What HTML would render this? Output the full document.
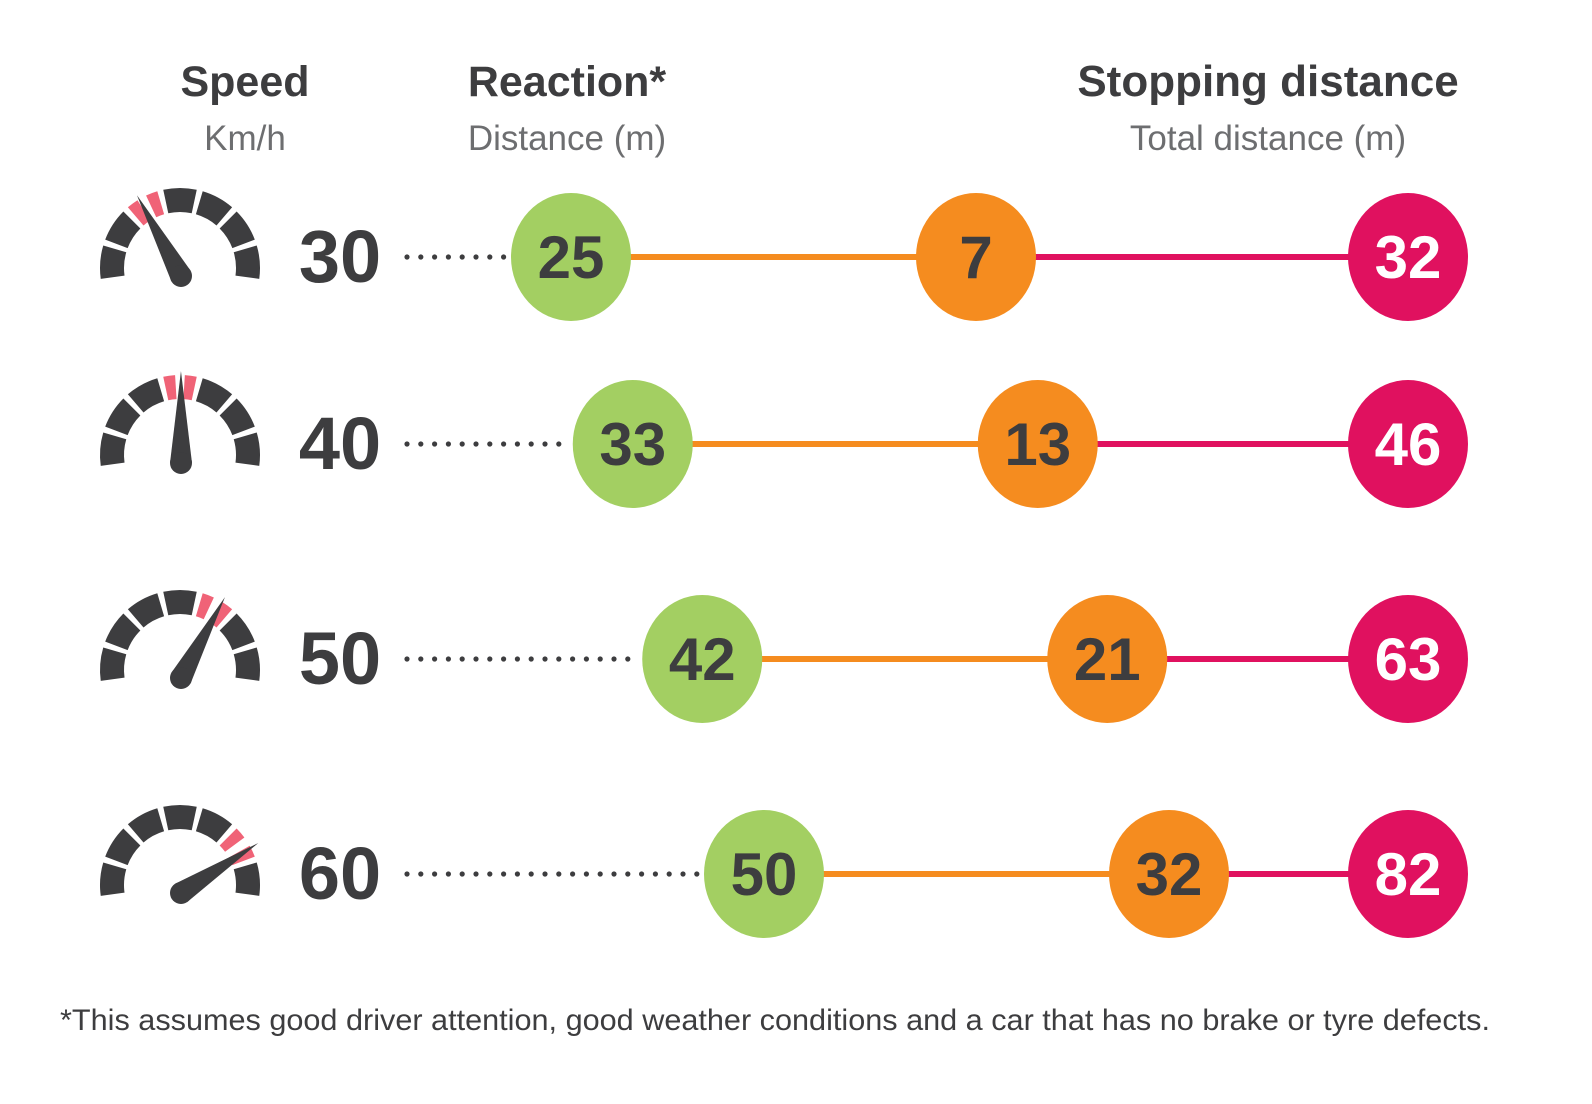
<!DOCTYPE html>
<html><head><meta charset="utf-8"><style>
body{margin:0;background:#fff;}
svg text{font-family:"Liberation Sans",sans-serif;}
</style></head><body>
<svg id="chart" width="1592" height="1099" viewBox="0 0 1592 1099" xmlns="http://www.w3.org/2000/svg">
<text x="245" y="96" text-anchor="middle" font-size="43" font-weight="bold" fill="#3d3d3f">Speed</text>
<text x="245" y="150" text-anchor="middle" font-size="35" fill="#6d6e70">Km/h</text>
<text x="567" y="96" text-anchor="middle" font-size="43" font-weight="bold" fill="#3d3d3f">Reaction*</text>
<text x="567" y="150" text-anchor="middle" font-size="35" fill="#6d6e70">Distance (m)</text>
<text x="1268" y="96" text-anchor="middle" font-size="44" font-weight="bold" fill="#3d3d3f">Stopping distance</text>
<text x="1268" y="150" text-anchor="middle" font-size="35" fill="#6d6e70">Total distance (m)</text>
<text x="775" y="1030" text-anchor="middle" font-size="29.5" fill="#3d3d3f" textLength="1430" lengthAdjust="spacingAndGlyphs">*This assumes good driver attention, good weather conditions and a car that has no brake or tyre defects.</text>
<g id="rows"></g>
</svg>
<script>
const speeds=[30,40,50,60];
const reaction=[25,33,42,50];
const braking=[7,13,21,32];
const total=[32,46,63,82];
const rowY=[257,444,659,874];
const NS='http://www.w3.org/2000/svg';
const g=document.getElementById('rows');
const xR=v=>378+7.72*v;
const xB=(r,b)=>xR(r)+405;
const xT=v=>1408;
const needleAngle=s=>118.6-(s-30)*2.857;
function mk(t,a,p){const e=document.createElementNS(NS,t);for(const k in a)e.setAttribute(k,a[k]);(p||g).appendChild(e);return e;}
function seg(cx,cy,r1,r2,a1,a2){const d=Math.PI/180;const p=(r,a)=>[cx+r*Math.cos(a*d),cy-r*Math.sin(a*d)];
const A=p(r2,a1),B=p(r2,a2),C=p(r1,a2),D=p(r1,a1);
return `M${A}A${r2} ${r2} 0 0 1 ${B}L${C}A${r1} ${r1} 0 0 0 ${D}Z`;}
speeds.forEach((s,i)=>{
 const y=rowY[i];const cx=180,cy=y+11;
 const gg=mk('g',{});
 
 
 const na=needleAngle(s);const step=200/7;
 for(let k=0;k<7;k++){
  const c=190-step/2-step*k;
  const a1=c+step/2-2.2,a2=c-step/2+2.2;
  if(Math.abs(c-na)<step/2){
   mk('path',{d:seg(cx,cy,56,80,a1,na+3.5),fill:'#f06377'},gg);
   mk('path',{d:seg(cx,cy,56,80,na-3.5,a2),fill:'#f06377'},gg);
  } else mk('path',{d:seg(cx,cy,56,80,a1,a2),fill:'#3d3d3f'},gg);
 }
 const d=Math.PI/180,bx=cx+1,by=cy+8;
 const tx=bx+92*Math.cos(na*d),ty=by-92*Math.sin(na*d);
 const px=-Math.sin(na*d)*11,py=-Math.cos(na*d)*11;
 mk('path',{d:`M${bx+px},${by+py}L${tx},${ty}L${bx-px},${by-py}Z`,fill:'#3d3d3f'},gg);
 mk('circle',{cx:bx,cy:by,r:11,fill:'#3d3d3f'},gg);
 const st=mk('text',{x:340,y:y+25,'text-anchor':'middle','font-size':74,'font-weight':'bold',fill:'#3d3d3f'});
 st.textContent=s;
 
 
 const gx=xR(reaction[i]),ox=xB(reaction[i],braking[i]),tx2=xT(total[i]);
 for(let x=407;x<gx-66;x+=13.8){const dt=mk('circle',{cx:x,cy:y,r:2.6,fill:'#3d3d3f'});
  
  }
 const l1=mk('line',{x1:gx,y1:y,x2:ox,y2:y,stroke:'#f58c1f','stroke-width':6});
 
 
 const l2=mk('line',{x1:ox,y1:y,x2:tx2,y2:y,stroke:'#e0115f','stroke-width':6});
 
 
 [[gx,'#a3cf62',reaction[i],'#3d3d3f','reaction-circle'],[ox,'#f58c1f',braking[i],'#3d3d3f','braking-circle'],[tx2,'#e0115f',total[i],'#ffffff','total-circle']].forEach(([x,c,v,tc,n])=>{
  const e=mk('ellipse',{cx:x,cy:y,rx:60,ry:64,fill:c});
  
  
  const t=mk('text',{x:x,y:y+21,'text-anchor':'middle','font-size':60,'font-weight':'bold',fill:tc});
  t.textContent=v;
  
  
 });
});
</script>
</body></html>
